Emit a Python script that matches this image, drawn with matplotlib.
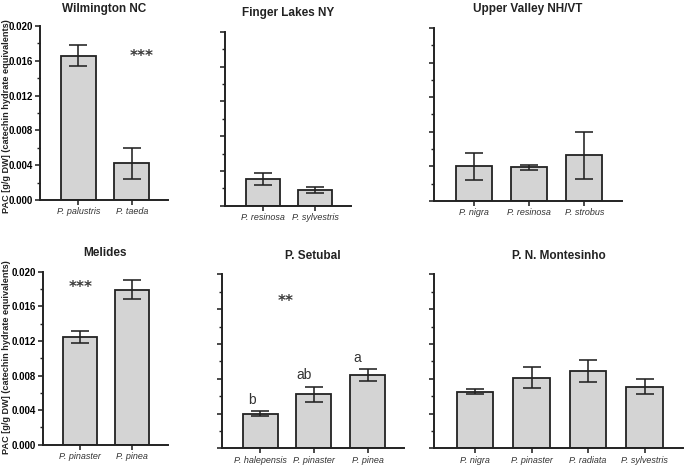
import matplotlib
matplotlib.use("Agg")
import matplotlib.pyplot as plt
from matplotlib.ticker import MultipleLocator, FormatStrFormatter

plt.rcParams['font.family'] = ['Liberation Sans', 'DejaVu Sans']

# ---- data ----
wil_species = ["P. palustris", "P. taeda"]
wil_mean = [0.0166, 0.0042]
wil_err = [0.0012, 0.0018]

fin_species = ["P. resinosa", "P. sylvestris"]
fin_mean = [0.0031, 0.0018]
fin_err = [0.0007, 0.0003]

upp_species = ["P. nigra", "P. resinosa", "P. strobus"]
upp_mean = [0.0040, 0.0039, 0.0053]
upp_err = [0.0016, 0.0003, 0.0027]

mel_species = ["P. pinaster", "P. pinea"]
mel_mean = [0.0125, 0.0179]
mel_err = [0.0007, 0.0011]

set_species = ["P. halepensis", "P. pinaster", "P. pinea"]
set_mean = [0.0040, 0.0062, 0.0084]
set_err = [0.0003, 0.0009, 0.0007]
set_letters = ["b", "ab", "a"]

mon_species = ["P. nigra", "P. pinaster", "P. radiata", "P. sylvestris"]
mon_mean = [0.0065, 0.0081, 0.0089, 0.0071]
mon_err = [0.0003, 0.0012, 0.0013, 0.0009]

titles = ["Wilmington NC", "Finger Lakes NY", "Upper Valley NH/VT",
          "Melides", "P. Setubal", "P. N. Montesinho"]
ylabel = "PAC [g/g DW] (catechin hydrate equivalents)"

W, H = 685, 467
fig = plt.figure(figsize=(W / 100, H / 100), dpi=100)

def rect(x0, x1, ytop, ybot):
    return [x0 / W, 1 - ybot / H, (x1 - x0) / W, (ybot - ytop) / H]

panels = [
    (rect(40, 168, 26, 200), wil_species, wil_mean, wil_err, True),
    (rect(225, 351, 32, 205.7), fin_species, fin_mean, fin_err, False),
    (rect(434, 622, 28, 201), upp_species, upp_mean, upp_err, False),
    (rect(42.7, 167.7, 271.7, 444.7), mel_species, mel_mean, mel_err, True),
    (rect(221.7, 404, 274.3, 448.3), set_species, set_mean, set_err, False),
    (rect(434.3, 683, 274.3, 448.3), mon_species, mon_mean, mon_err, False),
]
title_offsets = [12.3, 14, 13.5, 13.5, 13.3, 13.5]

edge = "#222222"
axes = []
for (r, sp, mean, err, showy), title, toff in zip(panels, titles, title_offsets):
    ax = fig.add_axes(r)
    n = len(sp)
    x = list(range(n))
    ax.bar(x, mean, width=0.65, color="#d4d4d4", edgecolor=edge, linewidth=1.3, zorder=2)
    ax.errorbar(x, mean, yerr=err, fmt="none", ecolor=edge, elinewidth=1.15,
                capsize=6.5, capthick=1.15, zorder=3)
    ax.set_xlim(-0.72, n - 1 + 0.68)
    ax.set_ylim(0, 0.020)
    ax.yaxis.set_major_locator(MultipleLocator(0.004))
    ax.yaxis.set_minor_locator(MultipleLocator(0.002))
    ax.yaxis.set_major_formatter(FormatStrFormatter("%.3f"))
    ax.set_xticks(x)
    ax.set_xticklabels(sp, fontsize=6.5, style="italic", color="#333333")
    for s in ["top", "right"]:
        ax.spines[s].set_visible(False)
    for s in ["left", "bottom"]:
        ax.spines[s].set_linewidth(1.4)
        ax.spines[s].set_color(edge)
    ax.tick_params(axis="both", which="major", length=3.4, width=1.15, color=edge)
    ax.tick_params(axis="y", which="minor", length=2.4, width=1.0, color=edge)
    ax.tick_params(axis="x", pad=2)
    ax.tick_params(axis="y", labelsize=7, pad=1.5)
    for lab in ax.get_yticklabels():
        lab.set_fontweight("bold")
    if not showy:
        ax.tick_params(axis="y", labelleft=False)
    ax.annotate(title, xy=(0.5, 1), xycoords="axes fraction", xytext=(0, toff),
                textcoords="offset points", ha="center", va="center",
                fontsize=8.5, fontweight="bold", color="#222222")
    axes.append(ax)

# significance marks
star_kw = dict(ha="center", va="center", fontsize=11, fontweight="bold",
               color="#3a3a3a", family="DejaVu Sans")
axes[0].text(1.19, 0.0165, "***", **star_kw)
axes[3].text(0.0, 0.0182, "***", **star_kw)
axes[4].text(0.48, 0.0169, "**", **star_kw)
letter_offsets = [-0.15, -0.19, -0.2]
for i, (lt, m, e) in enumerate(zip(set_letters, set_mean, set_err)):
    axes[4].text(i + letter_offsets[i], m + e + 0.0013, lt, ha="center", va="center",
                 fontsize=10, color="#333333")

# y labels
fig.text(6.5 / W, 1 - 116 / H, ylabel, rotation=90, ha="center", va="center",
         fontsize=6.6, fontweight="bold", color="#222222")
fig.text(6.5 / W, 1 - 357 / H, ylabel, rotation=90, ha="center", va="center",
         fontsize=6.6, fontweight="bold", color="#222222")

fig.savefig("out.png", dpi=100)
